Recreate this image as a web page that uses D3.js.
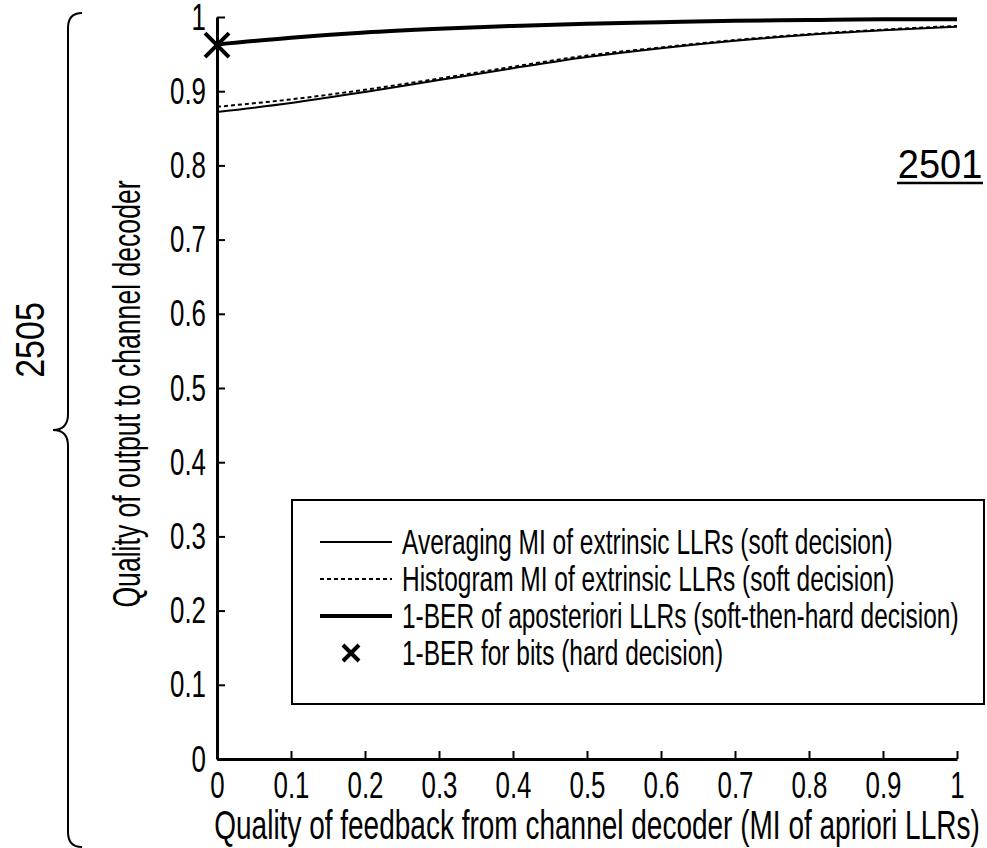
<!DOCTYPE html>
<html>
<head>
<meta charset="utf-8">
<script src="https://cdn.jsdelivr.net/npm/d3@7/dist/d3.min.js"></script>
<style>
  html, body { margin: 0; padding: 0; background: #fff; }
  svg { display: block; }
  text { font-family: "Liberation Sans", Arial, sans-serif; fill: #000; }
</style>
</head>
<body>
<svg id="chart" width="987" height="848"></svg>
<script>
// x values: quality of feedback (MI of a-priori LLRs)
const feedbackMI = [0, 0.1, 0.2, 0.3, 0.4, 0.5, 0.6, 0.7, 0.8, 0.9, 1.0];

// Averaging MI of extrinsic LLRs (soft decision)
const averagingMI = [0.872, 0.884, 0.899, 0.915, 0.931, 0.946, 0.958, 0.968, 0.976, 0.982, 0.987];
// Histogram MI of extrinsic LLRs (soft decision)
const histogramMI = [0.879, 0.889, 0.902, 0.917, 0.933, 0.948, 0.959, 0.969, 0.977, 0.983, 0.988];
// 1-BER of aposteriori LLRs (soft-then-hard decision)
const berAposteriori = [0.963, 0.972, 0.979, 0.984, 0.988, 0.991, 0.993, 0.995, 0.996, 0.997, 0.997];
// 1-BER for bits (hard decision): single point
const hardPoint = [{ x: 0, y: 0.962 }];

const xTickValues = [0, 0.1, 0.2, 0.3, 0.4, 0.5, 0.6, 0.7, 0.8, 0.9, 1];
const xTickLabels = ["0", "0.1", "0.2", "0.3", "0.4", "0.5", "0.6", "0.7", "0.8", "0.9", "1"];
const yTickValues = [0, 0.1, 0.2, 0.3, 0.4, 0.5, 0.6, 0.7, 0.8, 0.9, 1];
const yTickLabels = ["0", "0.1", "0.2", "0.3", "0.4", "0.5", "0.6", "0.7", "0.8", "0.9", "1"];

const legendLabels = [
  "Averaging MI of extrinsic LLRs (soft decision)",
  "Histogram MI of extrinsic LLRs (soft decision)",
  "1-BER of aposteriori LLRs (soft-then-hard decision)",
  "1-BER for bits (hard decision)"
];

const xTitle = "Quality of feedback from channel decoder (MI of apriori LLRs)";
const yTitle = "Quality of output to channel decoder";

const svg = d3.select("#chart");
const SX = 0.7; // condensed lettering

const x = d3.scaleLinear().domain([0, 1]).range([217, 957]);
const y = d3.scaleLinear().domain([0, 1]).range([759, 17]);

// axes: ticks point inward
const xAxis = d3.axisBottom(x).tickValues(xTickValues)
  .tickFormat((d, i) => xTickLabels[i]).tickSizeInner(-8).tickSizeOuter(0);
const yAxis = d3.axisLeft(y).tickValues(yTickValues)
  .tickFormat((d, i) => yTickLabels[i]).tickSizeInner(-8).tickSizeOuter(0);

const gx = svg.append("g").attr("transform", `translate(0,${y(0)})`).call(xAxis);
const gy = svg.append("g").attr("transform", `translate(${x(0)},0)`).call(yAxis);

[gx, gy].forEach(g => {
  g.select(".domain").attr("stroke", "#000").attr("stroke-width", 3);
  g.selectAll(".tick line").attr("stroke", "#000").attr("stroke-width", 2);
  g.selectAll(".tick text").attr("font-size", null).attr("font-family", null)
    .attr("fill", "#000").style("font-size", "37px").attr("dy", null);
});
gx.selectAll(".tick text").attr("y", null)
  .attr("text-anchor", "middle")
  .attr("transform", `translate(0,39) scale(${SX},1)`);
gy.selectAll(".tick text").attr("x", null)
  .attr("text-anchor", "end")
  .attr("transform", `translate(-11,12) scale(${SX},1)`);

// axis titles
svg.append("text")
  .attr("transform", `translate(${x(0.5) + 10},839) scale(${SX},1)`)
  .attr("text-anchor", "middle").style("font-size", "40px").text(xTitle);
svg.append("text")
  .attr("transform", `translate(140,${y(0.5) + 6}) rotate(-90) scale(${SX},1)`)
  .attr("text-anchor", "middle").style("font-size", "38px").text(yTitle);

// curves
const line = d3.line().x((d, i) => x(feedbackMI[i])).y(d => y(d)).curve(d3.curveMonotoneX);
const plot = svg.append("g");
plot.append("path").datum(averagingMI).attr("d", line)
  .attr("fill", "none").attr("stroke", "#000").attr("stroke-width", 2);
plot.append("path").datum(histogramMI).attr("d", line)
  .attr("fill", "none").attr("stroke", "#000").attr("stroke-width", 2)
  .attr("stroke-dasharray", "4,3");
plot.append("path").datum(berAposteriori).attr("d", line)
  .attr("fill", "none").attr("stroke", "#000").attr("stroke-width", 4);

function drawCross(g, cx, cy, r, w) {
  g.append("path")
    .attr("d", `M${cx - r},${cy - r}L${cx + r},${cy + r}M${cx - r},${cy + r}L${cx + r},${cy - r}`)
    .attr("stroke", "#000").attr("stroke-width", w).attr("fill", "none");
}
hardPoint.forEach(p => drawCross(plot, x(p.x), y(p.y), 12, 4));

// legend
const legend = svg.append("g");
legend.append("rect").attr("x", 292).attr("y", 500).attr("width", 692).attr("height", 204)
  .attr("fill", "#fff").attr("stroke", "#000").attr("stroke-width", 2);
const rowY = [542, 579, 616, 653];
const styles = [
  { w: 2, dash: null },
  { w: 2, dash: "4,3" },
  { w: 4, dash: null },
  null
];
legendLabels.forEach((lab, i) => {
  const ry = rowY[i];
  if (styles[i]) {
    legend.append("line").attr("x1", 320).attr("x2", 392).attr("y1", ry).attr("y2", ry)
      .attr("stroke", "#000").attr("stroke-width", styles[i].w)
      .attr("stroke-dasharray", styles[i].dash);
  } else {
    drawCross(legend, 351, ry, 8, 4);
  }
  legend.append("text")
    .attr("transform", `translate(402,${ry + 12}) scale(${SX},1)`)
    .style("font-size", "35px").text(lab);
});

// reference numeral 2501
svg.append("text")
  .attr("transform", `translate(940,178) scale(0.95,1)`)
  .attr("text-anchor", "middle").style("font-size", "40px").text("2501");
svg.append("line").attr("x1", 897).attr("x2", 983).attr("y1", 183).attr("y2", 183)
  .attr("stroke", "#000").attr("stroke-width", 2.5);

// brace grouping the output quality axis, with numeral 2505
svg.append("path")
  .attr("d", "M82,13 Q68,13 68,28 L68,414 Q68,430 53,430 Q68,430 68,446 L68,832 Q68,847 82,847")
  .attr("fill", "none").attr("stroke", "#000").attr("stroke-width", 2);
svg.append("text")
  .attr("transform", `translate(44,340) rotate(-90) scale(0.85,1)`)
  .attr("text-anchor", "middle").style("font-size", "40px").text("2505");
</script>
</body>
</html>
